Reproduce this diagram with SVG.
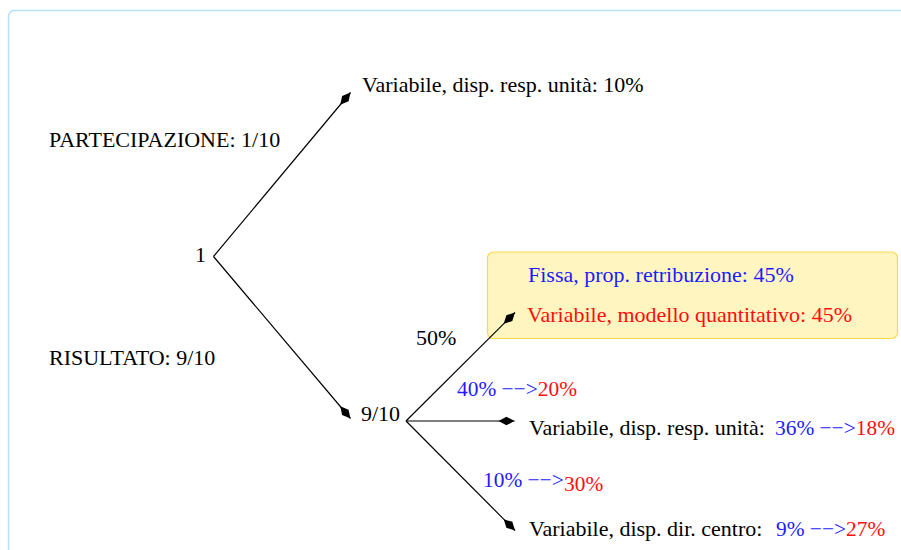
<svg xmlns="http://www.w3.org/2000/svg" width="901" height="550" viewBox="0 0 901 550">
<style>
text{font-family:"Liberation Serif","Times New Roman",serif;font-size:22px;fill:#000}
.b{fill:#1c1cff}
.r{fill:#ff0d0d}
.s{font-size:21.4px}
.c{fill:none;stroke:#000;stroke-width:1.2}
</style>
<defs>
<marker id="kite" markerUnits="userSpaceOnUse" markerWidth="20" markerHeight="12" viewBox="-17 -6 18 12" refX="0" refY="0" orient="auto">
<path d="M0,0 L-8,-4.2 L-16,0 L-8,4.2 Z" fill="#000"/>
</marker>
</defs>
<rect x="8.5" y="10.5" width="1000" height="1000" rx="6" fill="#fff" stroke="#b6e1fc" stroke-width="1.5"/>
<g id="node-box">
<rect x="487.5" y="252" width="410" height="86.5" rx="6" fill="#fff5c0" stroke="#fcd94c" stroke-width="1.2"/>
<text class="b" x="528" y="282">Fissa, prop. retribuzione: 45%</text>
<text class="r" x="527" y="322">Variabile, modello quantitativo: 45%</text>
</g>
<g id="connectors">
<line class="c" x1="213.5" y1="256.5" x2="350.5" y2="92.5" marker-end="url(#kite)"/>
<line class="c" x1="213.5" y1="256.5" x2="350.5" y2="418.5" marker-end="url(#kite)"/>
<line class="c" x1="406" y1="421" x2="515" y2="312.5" marker-end="url(#kite)"/>
<line class="c" x1="406" y1="421" x2="514.5" y2="421" marker-end="url(#kite)"/>
<line class="c" x1="406" y1="421" x2="515" y2="530.5" marker-end="url(#kite)"/>
</g>
<g id="node-root"><text x="195" y="262">1</text></g>
<g id="label-partecipazione"><text x="49" y="147">PARTECIPAZIONE: 1/10</text></g>
<g id="label-risultato"><text x="49" y="365">RISULTATO: 9/10</text></g>
<g id="node-top"><text x="362" y="92">Variabile, disp. resp. unità: 10%</text></g>
<g id="node-910"><text x="361" y="421">9/10</text></g>
<g id="label-50"><text x="416" y="345">50%</text></g>
<g id="label-40"><text class="s" x="457" y="396"><tspan class="b">40% −−&gt;</tspan><tspan class="r">20%</tspan></text></g>
<g id="node-resp"><text x="529" y="435">Variabile, disp. resp. unità: <tspan class="b s" x="775">36% −−&gt;</tspan><tspan class="r s">18%</tspan></text></g>
<g id="label-10"><text class="b s" x="483" y="487">10% −−&gt;</text><text class="r s" x="564" y="491">30%</text></g>
<g id="node-dir"><text x="529" y="536">Variabile, disp. dir. centro: <tspan class="b s" x="776">9% −−&gt;</tspan><tspan class="r s">27%</tspan></text></g>
</svg>
